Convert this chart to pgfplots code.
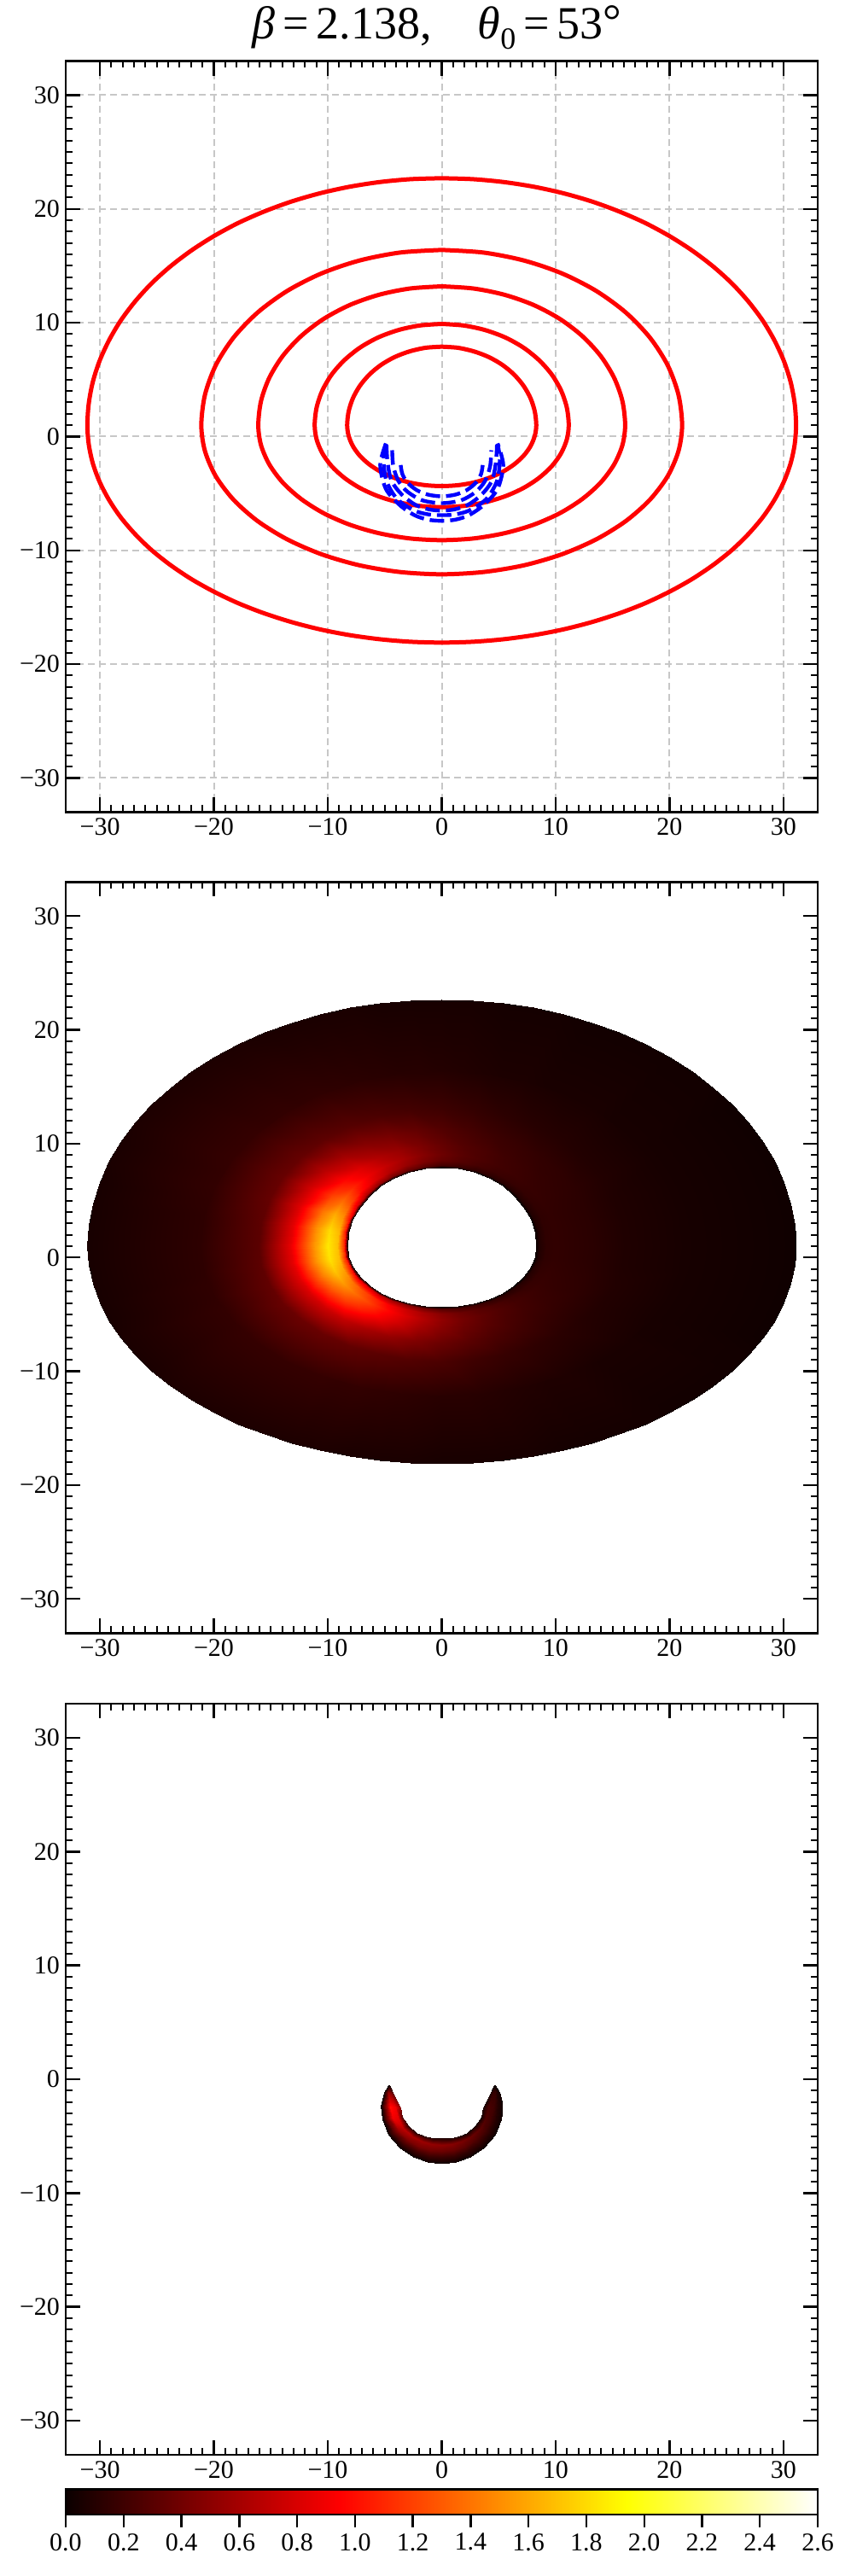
\documentclass[border=0pt]{standalone}
\usepackage{fontspec}
\setmainfont{Liberation Serif}
\usepackage{pgfplots}
\usepackage{pgfplotstable}
\pgfplotsset{compat=1.18}

% rings of the disc image: 8 rings of 37 nodes, x y and intensity
\pgfplotstableread{
x y v
0 7.90 0
1.44 7.80 0
2.84 7.48 0
4.15 6.98 0
5.34 6.29 0
6.36 5.44 0
7.19 4.45 0
7.80 3.36 0
8.17 2.20 0
8.30 1 0
8.17 0.07 0
7.80 -0.83 0
7.19 -1.68 0
6.36 -2.44 0
5.34 -3.10 0
4.15 -3.63 0
2.84 -4.03 0
1.44 -4.27 0
0 -4.35 0
-1.44 -4.27 0
-2.84 -4.03 0
-4.15 -3.63 0
-5.34 -3.10 0
-6.36 -2.44 0
-7.19 -1.68 0
-7.80 -0.83 0
-8.17 0.07 0
-8.30 1 0
-8.17 2.20 0
-7.80 3.36 0
-7.19 4.45 0
-6.36 5.44 0
-5.34 6.29 0
-4.15 6.98 0
-2.84 7.48 0
-1.44 7.80 0
0 7.90 0
0 8.10 .23
1.49 7.99 .18
2.94 7.67 .15
4.30 7.15 .13
5.53 6.44 .11
6.59 5.56 .10
7.45 4.55 .10
8.08 3.43 .09
8.47 2.23 .09
8.60 1 .09
8.47 0.04 .09
8.08 -0.90 .10
7.45 -1.78 .10
6.59 -2.57 .11
5.53 -3.25 .13
4.30 -3.81 .16
2.94 -4.22 .20
1.49 -4.47 .25
0 -4.55 .31
-1.49 -4.47 .40
-2.94 -4.22 .49
-4.30 -3.81 .60
-5.53 -3.25 .72
-6.59 -2.57 .83
-7.45 -1.78 .93
-8.08 -0.90 1.03
-8.47 0.04 1.10
-8.60 1 1.11
-8.47 2.23 1.08
-8.08 3.43 .97
-7.45 4.55 .81
-6.59 5.56 .65
-5.53 6.44 .53
-4.30 7.15 .43
-2.94 7.67 .36
-1.49 7.99 .29
0 8.10 .23
0 8.55 .35
1.60 8.44 .28
3.15 8.09 .23
4.60 7.54 .19
5.91 6.78 .17
7.05 5.85 .16
7.97 4.78 .15
8.65 3.58 .14
9.06 2.31 .14
9.20 1 .14
9.06 -0.03 .14
8.65 -1.03 .15
7.97 -1.98 .16
7.05 -2.82 .17
5.91 -3.56 .20
4.60 -4.15 .25
3.15 -4.59 .30
1.60 -4.86 .38
0 -4.95 .48
-1.60 -4.86 .61
-3.15 -4.59 .75
-4.60 -4.15 .92
-5.91 -3.56 1.10
-7.05 -2.82 1.27
-7.97 -1.98 1.43
-8.65 -1.03 1.58
-9.06 -0.03 1.68
-9.20 1 1.70
-9.06 2.31 1.66
-8.65 3.58 1.49
-7.97 4.78 1.24
-7.05 5.85 .99
-5.91 6.78 .81
-4.60 7.54 .66
-3.15 8.09 .55
-1.60 8.44 .44
0 8.55 .35
0 9.10 .38
1.74 8.98 .30
3.42 8.61 .25
5 8.01 .21
6.43 7.20 .19
7.66 6.21 .17
8.66 5.05 .16
9.40 3.77 .15
9.85 2.41 .15
10 1 .15
9.85 -0.12 .15
9.40 -1.21 .16
8.66 -2.23 .17
7.66 -3.15 .19
6.43 -3.94 .22
5 -4.59 .27
3.42 -5.06 .33
1.74 -5.35 .41
0 -5.45 .52
-1.74 -5.35 .66
-3.42 -5.06 .82
-5 -4.59 1.0
-6.43 -3.94 1.2
-7.66 -3.15 1.38
-8.66 -2.23 1.55
-9.40 -1.21 1.72
-9.85 -0.12 1.83
-10 1 1.85
-9.85 2.41 1.80
-9.40 3.77 1.62
-8.66 5.05 1.35
-7.66 6.21 1.08
-6.43 7.20 .88
-5 8.01 .72
-3.42 8.61 .60
-1.74 8.98 .48
0 9.10 .38
0 9.90 .35
1.94 9.76 .28
3.81 9.36 .24
5.58 8.71 .20
7.17 7.82 .18
8.54 6.72 .16
9.66 5.45 .15
10.48 4.04 .14
10.98 2.55 .14
11.15 1 .14
10.98 -0.25 .14
10.48 -1.46 .15
9.66 -2.60 .16
8.54 -3.63 .18
7.17 -4.52 .21
5.58 -5.24 .25
3.81 -5.77 .31
1.94 -6.09 .38
0 -6.20 .48
-1.94 -6.09 .60
-3.81 -5.77 .76
-5.58 -5.24 .92
-7.17 -4.52 1.08
-8.54 -3.63 1.22
-9.66 -2.60 1.34
-10.48 -1.46 1.46
-10.98 -0.25 1.54
-11.15 1 1.55
-10.98 2.55 1.52
-10.48 4.04 1.40
-9.66 5.45 1.20
-8.54 6.72 .99
-7.17 7.82 .82
-5.58 8.71 .65
-3.81 9.36 .55
-1.94 9.76 .44
0 9.90 .35
0 11.30 .28
2.31 11.14 .23
4.55 10.68 .19
6.65 9.92 .17
8.55 8.89 .15
10.19 7.62 .14
11.52 6.15 .13
12.50 4.52 .12
13.10 2.79 .12
13.30 1 .12
13.10 -0.47 .12
12.50 -1.89 .13
11.52 -3.23 .14
10.19 -4.43 .15
8.55 -5.47 .17
6.65 -6.32 .21
4.55 -6.94 .25
2.31 -7.32 .31
0 -7.45 .37
-2.31 -7.32 .45
-4.55 -6.94 .53
-6.65 -6.32 .61
-8.55 -5.47 .71
-10.19 -4.43 .76
-11.52 -3.23 .80
-12.50 -1.89 .83
-13.10 -0.47 .85
-13.30 1 .85
-13.10 2.79 .84
-12.50 4.52 .82
-11.52 6.15 .77
-10.19 7.62 .68
-8.55 8.89 .59
-6.65 9.92 .48
-4.55 10.68 .42
-2.31 11.14 .35
0 11.30 .28
0 13.20 .19
2.80 13.01 .16
5.51 12.46 .13
8.05 11.57 .11
10.35 10.35 .10
12.33 8.84 .09
13.94 7.10 .09
15.13 5.17 .08
15.86 3.12 .08
16.10 1 .08
15.86 -0.75 .08
15.13 -2.45 .09
13.94 -4.05 .09
12.33 -5.49 .10
10.35 -6.74 .12
8.05 -7.75 .14
5.51 -8.49 .17
2.80 -8.95 .20
0 -9.10 .25
-2.80 -8.95 .28
-5.51 -8.49 .31
-8.05 -7.75 .34
-10.35 -6.74 .36
-12.33 -5.49 .37
-13.94 -4.05 .36
-15.13 -2.45 .34
-15.86 -0.75 .32
-16.10 1 .31
-15.86 3.12 .32
-15.13 5.17 .35
-13.94 7.10 .36
-12.33 8.84 .35
-10.35 10.35 .32
-8.05 11.57 .29
-5.51 12.46 .25
-2.80 13.01 .22
0 13.20 .19
0 16.40 .10
3.66 16.17 .08
7.22 15.47 .07
10.55 14.34 .06
13.56 12.80 .06
16.16 10.90 .05
18.27 8.70 .05
19.83 6.27 .05
20.78 3.67 .05
21.10 1 .05
20.78 -1.27 .05
19.83 -3.48 .05
18.27 -5.55 .05
16.16 -7.42 .06
13.56 -9.03 .06
10.55 -10.34 .08
7.22 -11.31 .09
3.66 -11.90 .11
0 -12.10 .12
-3.66 -11.90 .14
-7.22 -11.31 .16
-10.55 -10.34 .17
-13.56 -9.03 .17
-16.16 -7.42 .17
-18.27 -5.55 .16
-19.83 -3.48 .15
-20.78 -1.27 .14
-21.10 1 .14
-20.78 3.67 .14
-19.83 6.27 .16
-18.27 8.70 .17
-16.16 10.90 .17
-13.56 12.80 .16
-10.55 14.34 .15
-7.22 15.47 .13
-3.66 16.17 .11
0 16.40 .10
}\disc

% outer band of the disc, finer steps so its edge stays round: 2 rings of 73 nodes.
% its inner ring sits a little under the last ring of the disc table
\pgfplotstableread{
x y v
0 15.94 .10
1.78 15.88 .09
3.55 15.71 .08
5.30 15.42 .07
7.00 15.04 .07
8.65 14.54 .06
10.23 13.94 .06
11.74 13.24 .06
13.15 12.45 .06
14.47 11.56 .05
15.68 10.60 .05
16.76 9.57 .05
17.72 8.47 .05
18.55 7.31 .05
19.24 6.11 .05
19.77 4.87 .05
20.16 3.59 .05
20.39 2.30 .05
20.47 1 .05
20.39 -0.11 .05
20.16 -1.20 .05
19.77 -2.29 .05
19.24 -3.35 .05
18.55 -4.37 .05
17.72 -5.35 .05
16.76 -6.28 .05
15.68 -7.17 .06
14.47 -7.98 .06
13.15 -8.73 .06
11.74 -9.41 .07
10.23 -10.00 .08
8.65 -10.51 .08
7.00 -10.94 .09
5.30 -11.27 .10
3.55 -11.51 .11
1.78 -11.66 .12
0 -11.71 .12
-1.78 -11.66 .13
-3.55 -11.51 .14
-5.30 -11.27 .15
-7.00 -10.94 .16
-8.65 -10.51 .16
-10.23 -10.00 .17
-11.74 -9.41 .17
-13.15 -8.73 .17
-14.47 -7.98 .17
-15.68 -7.17 .17
-16.76 -6.28 .17
-17.72 -5.35 .16
-18.55 -4.37 .16
-19.24 -3.35 .15
-19.77 -2.29 .15
-20.16 -1.20 .14
-20.39 -0.11 .14
-20.47 1 .14
-20.39 2.30 .14
-20.16 3.59 .14
-19.77 4.87 .15
-19.24 6.11 .16
-18.55 7.31 .16
-17.72 8.47 .17
-16.76 9.57 .17
-15.68 10.60 .17
-14.47 11.56 .16
-13.15 12.45 .16
-11.74 13.24 .15
-10.23 13.94 .15
-8.65 14.54 .14
-7.00 15.04 .13
-5.30 15.42 .12
-3.55 15.71 .11
-1.78 15.88 .11
0 15.94 .10
0 22.70 .05
2.71 22.62 .05
5.40 22.37 .04
8.05 21.96 .04
10.64 21.39 .04
13.14 20.67 .03
15.55 19.79 .03
17.84 18.78 .03
19.99 17.62 .03
21.99 16.34 .03
23.82 14.95 .03
25.48 13.45 .02
26.93 11.85 .02
28.19 10.17 .02
29.22 8.42 .02
30.04 6.62 .02
30.63 4.77 .02
30.98 2.89 .02
31.10 1 .02
30.98 -0.67 .02
30.63 -2.32 .02
30.04 -3.94 .02
29.22 -5.53 .02
28.19 -7.07 .02
26.93 -8.55 .03
25.48 -9.96 .03
23.82 -11.28 .03
21.99 -12.51 .03
19.99 -13.63 .03
17.84 -14.65 .04
15.55 -15.54 .04
13.14 -16.31 .04
10.64 -16.95 .04
8.05 -17.45 .05
5.40 -17.81 .05
2.71 -18.03 .05
0 -18.10 .05
-2.71 -18.03 .06
-5.40 -17.81 .06
-8.05 -17.45 .06
-10.64 -16.95 .07
-13.14 -16.31 .07
-15.55 -15.54 .07
-17.84 -14.65 .07
-19.99 -13.63 .07
-21.99 -12.51 .07
-23.82 -11.28 .07
-25.48 -9.96 .06
-26.93 -8.55 .06
-28.19 -7.07 .06
-29.22 -5.53 .05
-30.04 -3.94 .05
-30.63 -2.32 .05
-30.98 -0.67 .05
-31.10 1 .05
-30.98 2.89 .05
-30.63 4.77 .05
-30.04 6.62 .05
-29.22 8.42 .06
-28.19 10.17 .06
-26.93 11.85 .07
-25.48 13.45 .07
-23.82 14.95 .07
-21.99 16.34 .07
-19.99 17.62 .07
-17.84 18.78 .07
-15.55 19.79 .06
-13.14 20.67 .06
-10.64 21.39 .06
-8.05 21.96 .06
-5.40 22.37 .05
-2.71 22.62 .05
0 22.70 .05
}\band

% second order image: 5 rings of 17 nodes
\pgfplotstableread{
x y v
-4.55 -.60 .03
-4.25 -1.35 .35
-3.65 -2.50 .50
-3.45 -3.30 .28
-2.95 -4.05 .13
-2.20 -4.70 .10
-1.40 -5.00 .09
-.70 -5.15 .08
0 -5.20 .08
.70 -5.15 .07
1.40 -5.00 .06
2.20 -4.70 .05
2.95 -4.05 .05
3.45 -3.30 .05
3.65 -2.50 .06
4.25 -1.35 .07
4.55 -.60 .02
-4.58 -.59 .06
-4.45 -1.29 .50
-4.08 -2.45 .90
-3.89 -3.35 .85
-3.38 -4.26 .70
-2.58 -5.03 .62
-1.68 -5.45 .56
-.84 -5.68 .53
0 -5.75 .51
.84 -5.68 .48
1.68 -5.45 .43
2.58 -5.03 .37
3.38 -4.26 .31
3.89 -3.35 .26
4.08 -2.45 .24
4.45 -1.29 .17
4.58 -.59 .04
-4.60 -.58 .06
-4.65 -1.23 .55
-4.50 -2.40 1.00
-4.33 -3.40 .90
-3.80 -4.48 .56
-2.95 -5.35 .46
-1.95 -5.90 .43
-.98 -6.20 .40
0 -6.30 .38
.98 -6.20 .36
1.95 -5.90 .32
2.95 -5.35 .27
3.80 -4.48 .23
4.33 -3.40 .21
4.50 -2.40 .21
4.65 -1.23 .17
4.60 -.58 .03
-4.62 -.56 .03
-4.85 -1.16 .30
-4.93 -2.35 .50
-4.76 -3.45 .42
-4.23 -4.69 .26
-3.33 -5.68 .21
-2.23 -6.35 .20
-1.11 -6.73 .19
0 -6.85 .18
1.11 -6.73 .17
2.23 -6.35 .15
3.33 -5.68 .13
4.23 -4.69 .11
4.76 -3.45 .10
4.93 -2.35 .10
4.85 -1.16 .09
4.62 -.56 .02
-4.65 -.55 .02
-5.05 -1.10 .02
-5.35 -2.30 .02
-5.20 -3.50 .02
-4.65 -4.90 .02
-3.70 -6.00 .02
-2.50 -6.80 .02
-1.25 -7.25 .02
0 -7.40 .02
1.25 -7.25 .02
2.50 -6.80 .02
3.70 -6.00 .02
4.65 -4.90 .02
5.20 -3.50 .02
5.35 -2.30 .02
5.05 -1.10 .02
4.65 -.55 .02
}\crescent

\pgfplotsset{
  colormap={hot}{rgb(0pt)=(0.0416,0,0); rgb(365pt)=(1,0,0); rgb(746pt)=(1,1,0); rgb(1000pt)=(1,1,1)},
  tick label style={font=\fontsize{15}{18}\selectfont},
  panel/.style={
    scale only axis, width=440.5pt, height=440pt,
    xmin=-33, xmax=33, ymin=-33, ymax=33,
    xtick={-30,-20,...,30}, ytick={-30,-20,...,30},
    xticklabels={−30,−20,−10,0,10,20,30},
    yticklabels={−30,−20,−10,0,10,20,30},
    minor tick num=9, tick align=inside,
    major tick length=8.5pt, minor tick length=4pt,
    major tick style={black, line width=1.2pt},
    minor tick style={black, line width=1pt},
    axis line style={line width=1.4pt},
    point meta min=0, point meta max=2.6,
  },
  ring/.style 2 args={red, line width=2.5pt, smooth,
    skip coords between index={0}{#1},
    skip coords between index={#2}{1000}},
  arc/.style={blue, line width=2.2pt, smooth, dash pattern=on 8.5pt off 3.5pt},
}

\begin{document}
\begin{tikzpicture}
\useasboundingbox (-38.5pt,-1033.25pt) rectangle (459.5pt,475.75pt);

\begin{axis}[panel,
  grid=major,
  grid style={dash pattern=on 4pt off 2.5pt, line width=1pt, color=black!22},
  title={\textit{β}\,=\,2.138,\quad \textit{θ}\raisebox{-.22em}{\fontsize{18}{18}\selectfont 0}\,=\,53\raisebox{.05em}{°}},
  title style={font=\fontsize{27}{30}\selectfont, at={(0.5,1)}, anchor=base, yshift=7pt, xshift=-2.75pt},
]
\addplot[ring={0}{37}] table[x=x,y=y] {\disc};
\addplot[ring={148}{185}] table[x=x,y=y] {\disc};
\addplot[ring={222}{259}] table[x=x,y=y] {\disc};
\addplot[ring={259}{296}] table[x=x,y=y] {\disc};
\addplot[ring={73}{146}] table[x=x,y=y] {\band};
\addplot[arc] coordinates {(-3.6,-2.5)(-3.45,-3.3)(-3.0,-4.05)(-2.2,-4.7)(-1.2,-5.1)(0,-5.25)(1.2,-5.1)(2.2,-4.7)(3.0,-4.05)(3.45,-3.3)(3.6,-2.5)};
\addplot[arc] coordinates {(-4.35,-1.2)(-4.25,-2.6)(-3.8,-3.9)(-3.0,-4.85)(-1.7,-5.6)(0,-5.85)(1.7,-5.6)(3.0,-4.85)(3.8,-3.9)(4.25,-2.6)(4.35,-1.2)};
\addplot[arc] coordinates {(-4.85,-.7)(-4.75,-2.3)(-4.4,-3.9)(-3.5,-5.1)(-2.3,-6.0)(-1.1,-6.4)(0,-6.5)(1.1,-6.4)(2.3,-6.0)(3.5,-5.1)(4.4,-3.9)(4.75,-2.3)(4.85,-.7)};
\addplot[arc] coordinates {(-4.9,-.65)(-5.1,-2.0)(-4.85,-3.9)(-3.9,-5.5)(-2.4,-6.5)(-1.1,-6.85)(0,-6.9)(1.1,-6.85)(2.4,-6.5)(3.9,-5.5)(4.85,-3.9)(5.1,-2.0)(4.9,-.65)};
\addplot[arc] coordinates {(-4.9,-.6)(-5.4,-2.5)(-4.9,-4.6)(-3.7,-6.0)(-2.4,-6.9)(-1.2,-7.3)(0,-7.4)(1.2,-7.3)(2.4,-6.9)(3.7,-6.0)(4.9,-4.6)(5.4,-2.5)(4.9,-.6)};
\end{axis}

\begin{axis}[panel, at={(0,-480.85pt)}]
\addplot[surf, shader=interp, mesh/rows=2, mesh/cols=73, point meta=explicit]
  table[x=x,y=y,meta=v] {\band};
\addplot[surf, shader=interp, mesh/rows=8, mesh/cols=37, point meta=explicit]
  table[x=x,y=y,meta=v] {\disc};
\end{axis}

\begin{axis}[panel, at={(0,-962.25pt)},
  colorbar horizontal,
  colorbar style={
    at={(parent axis.south west)}, anchor=north west, yshift=-11.5pt,
    scale only axis, width=440.5pt, height=15pt,
    xtick={0,0.2,...,2.6},
    xticklabels={0.0,0.2,0.4,0.6,0.8,1.0,1.2,1.4,1.6,1.8,2.0,2.2,2.4,2.6},
    xticklabel pos=lower, xtick pos=lower, tick align=outside,
    major tick length=7.5pt, minor tick num=0,
    major tick style={black, line width=1.2pt},
    axis line style={line width=1.4pt},
  },
]
\addplot[surf, shader=interp, mesh/rows=5, mesh/cols=17, point meta=explicit]
  table[x=x,y=y,meta=v] {\crescent};
\end{axis}
\end{tikzpicture}
\end{document}
